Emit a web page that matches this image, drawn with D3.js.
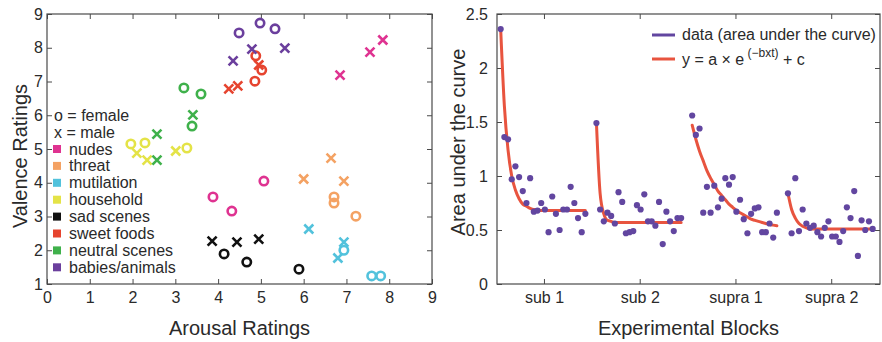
<!DOCTYPE html>
<html>
<head>
<meta charset="utf-8">
<script src="https://cdn.jsdelivr.net/npm/d3@7"></script>
<style>
  body { margin: 0; background: #fff; }
  text { font-family: "Liberation Sans", Arial, sans-serif; }
</style>
</head>
<body>
<script>
// ---- left panel data: arousal / valence per category (3 female, 3 male)
var categories = ["nudes", "threat", "mutilation", "household", "sad scenes", "sweet foods", "neutral scenes", "babies/animals"];
var femaleArousal = [[3.88, 4.32, 5.07], [6.71, 6.71, 7.22], [6.94, 7.59, 7.80], [1.96, 2.29, 3.27], [4.14, 4.67, 5.89], [4.88, 5.02, 4.86], [3.20, 3.60, 3.39], [4.49, 4.98, 5.33]];
var femaleValence = [[3.58, 3.16, 4.05], [3.58, 3.40, 3.01], [2.00, 1.24, 1.24], [5.15, 5.18, 5.03], [1.89, 1.65, 1.44], [7.76, 7.34, 7.01], [6.81, 6.63, 5.68], [8.44, 8.73, 8.56]];
var maleArousal = [[6.85, 7.55, 7.85], [6.64, 6.00, 6.94], [6.12, 6.94, 6.80], [2.10, 2.34, 3.01], [3.86, 4.44, 4.95], [4.95, 4.25, 4.46], [3.41, 2.57, 2.57], [4.35, 4.79, 5.56]];
var maleValence = [[7.19, 7.87, 8.23], [4.73, 4.11, 4.05], [2.63, 2.24, 1.77], [4.88, 4.67, 4.94], [2.27, 2.24, 2.33], [7.49, 6.78, 6.87], [6.01, 5.44, 4.67], [7.61, 7.96, 7.99]];
var arousalTicks = [0, 1, 2, 3, 4, 5, 6, 7, 8, 9];
var valenceTicks = [1, 2, 3, 4, 5, 6, 7, 8, 9];

// ---- right panel data: area under the curve per trial, 24 trials per block
var blocks = ["sub 1", "sub 2", "supra 1", "supra 2"];
var aucSub1 = [2.36, 1.36, 1.34, 0.97, 1.09, 0.99, 0.86, 0.75, 0.98, 0.67, 0.68, 0.75, 0.69, 0.48, 0.81, 0.65, 0.50, 0.69, 0.69, 0.90, 0.75, 0.61, 0.48, 0.65];
var aucSub2 = [1.49, 0.69, 0.58, 0.66, 0.63, 0.56, 0.85, 0.76, 0.47, 0.48, 0.49, 0.73, 0.69, 0.83, 0.58, 0.58, 0.54, 0.76, 0.37, 0.67, 0.58, 0.49, 0.61, 0.61];
var aucSupra1 = [1.56, 1.38, 1.44, 0.66, 0.90, 0.66, 0.91, 0.71, 0.79, 0.98, 0.92, 0.99, 0.67, 0.78, 0.60, 0.47, 0.65, 0.70, 0.71, 0.48, 0.48, 0.56, 0.43, 0.66];
var aucSupra2 = [0.84, 0.47, 0.98, 0.49, 0.69, 0.56, 0.52, 0.54, 0.48, 0.44, 0.52, 0.58, 0.44, 0.44, 0.39, 0.49, 0.71, 0.61, 0.86, 0.26, 0.59, 0.50, 0.58, 0.51];
// fitted exponential
var fitSub1 = [2.36, 1.65, 1.24, 1.00, 0.87, 0.79, 0.74, 0.72, 0.70, 0.69, 0.69, 0.68, 0.68, 0.68, 0.68, 0.68, 0.68, 0.68, 0.68, 0.68, 0.68, 0.68, 0.68, 0.68];
var fitSub2 = [1.49, 0.84, 0.65, 0.59, 0.58, 0.57, 0.57, 0.57, 0.57, 0.57, 0.57, 0.57, 0.57, 0.57, 0.57, 0.57, 0.57, 0.57, 0.57, 0.57, 0.57, 0.57, 0.57, 0.57];
var fitSupra1 = [1.47, 1.34, 1.23, 1.14, 1.05, 0.98, 0.92, 0.86, 0.82, 0.78, 0.74, 0.71, 0.68, 0.66, 0.64, 0.62, 0.60, 0.59, 0.58, 0.57, 0.56, 0.55, 0.545, 0.54];
var fitSupra2 = [0.84, 0.69, 0.61, 0.56, 0.535, 0.52, 0.51, 0.51, 0.51, 0.51, 0.51, 0.51, 0.51, 0.51, 0.51, 0.51, 0.51, 0.51, 0.51, 0.51, 0.51, 0.51, 0.51, 0.51];
var aucTicks = [0, 0.5, 1, 1.5, 2, 2.5];

var catColors = ["#df3391", "#f4a263", "#52c2dc", "#e4e347", "#111111", "#e6442f", "#3fb14b", "#6b3f9d"];
var dataColor = "#6246a0", fitColor = "#e8543f";
var axisColor = "#4a4a4a", textColor = "#2a2a2a";

var W = 882, H = 342;
var svg = d3.select("body").append("svg").attr("width", W).attr("height", H);

function frame(g, x, y, xTicks, yTicks, xFmt, yPad) {
  var x0 = x.range()[0], x1 = x.range()[1], y0 = y.range()[0], y1 = y.range()[1];
  g.append("g").attr("transform", "translate(0," + y0 + ")")
    .call(d3.axisBottom(x).tickValues(xTicks).tickSize(-5).tickSizeOuter(0).tickPadding(8).tickFormat(xFmt));
  g.append("g").attr("transform", "translate(0," + y1 + ")")
    .call(d3.axisTop(x).tickValues(xTicks).tickSize(-5).tickSizeOuter(0).tickFormat(""));
  g.append("g").attr("transform", "translate(" + x0 + ",0)")
    .call(d3.axisLeft(y).tickValues(yTicks).tickSize(-5).tickSizeOuter(0).tickPadding(yPad).tickFormat(d3.format("")));
  g.append("g").attr("transform", "translate(" + x1 + ",0)")
    .call(d3.axisRight(y).tickValues(yTicks).tickSize(-5).tickSizeOuter(0).tickFormat(""));
  g.selectAll(".domain").remove();
  g.selectAll(".tick line").attr("stroke", axisColor);
  g.selectAll(".tick text").attr("fill", textColor).style("font-size", "16px");
  g.append("rect").attr("x", x0).attr("y", y1).attr("width", x1 - x0).attr("height", y0 - y1)
    .attr("fill", "none").attr("stroke", axisColor).attr("stroke-width", 1.2);
}

// ================= left panel =================
var xA = d3.scaleLinear().domain([0, 9]).range([47, 432]);
var yV = d3.scaleLinear().domain([1, 9]).range([284, 14]);
var left = svg.append("g");
frame(left, xA, yV, arousalTicks, valenceTicks, d3.format("d"), 4);

left.append("text").attr("x", xA(4.5)).attr("y", 335).attr("text-anchor", "middle")
  .attr("fill", textColor).style("font-size", "20px").text("Arousal Ratings");
left.append("text").attr("transform", "translate(27,156) rotate(-90)").attr("text-anchor", "middle")
  .attr("fill", textColor).style("font-size", "20px").text("Valence Ratings");

// legend
left.append("text").attr("x", 54).attr("y", 121).attr("fill", textColor).style("font-size", "16px").text("o = female");
left.append("text").attr("x", 54).attr("y", 138).attr("fill", textColor).style("font-size", "16px").text("x = male");
var leg = left.selectAll(".leg").data(categories).enter().append("g").attr("class", "leg")
  .attr("transform", function(d, i) { return "translate(53," + (149 + i * 16.9) + ")"; });
leg.append("rect").attr("x", 0).attr("y", -4).attr("width", 8).attr("height", 8)
  .attr("fill", function(d, i) { return catColors[i]; });
leg.append("text").attr("x", 16).attr("y", 5.5).attr("fill", textColor).style("font-size", "16px").text(function(d) { return d; });

// markers
categories.forEach(function(c, i) {
  var col = catColors[i];
  femaleArousal[i].forEach(function(a, j) {
    left.append("circle").attr("cx", xA(a)).attr("cy", yV(femaleValence[i][j])).attr("r", 4.2)
      .attr("fill", "none").attr("stroke", col).attr("stroke-width", 2.6);
  });
  maleArousal[i].forEach(function(a, j) {
    var px = xA(a), py = yV(maleValence[i][j]), s = 4.5;
    left.append("path").attr("d", "M" + (px - s) + "," + (py - s) + "L" + (px + s) + "," + (py + s) +
        "M" + (px - s) + "," + (py + s) + "L" + (px + s) + "," + (py - s))
      .attr("stroke", col).attr("stroke-width", 2.6).attr("fill", "none");
  });
});

// ================= right panel =================
var blockLen = 26;
var xT = d3.scaleLinear().domain([0, blocks.length * blockLen]).range([497, 880]);
var yU = d3.scaleLinear().domain([0, 2.5]).range([284, 14]);
var right = svg.append("g");
var blockTicks = blocks.map(function(b, i) { return i * blockLen + 12.75; });
frame(right, xT, yU, blockTicks, aucTicks, function(d, i) { return blocks[i]; }, 9);

right.append("text").attr("x", xT(52)).attr("y", 335).attr("text-anchor", "middle")
  .attr("fill", textColor).style("font-size", "20px").text("Experimental Blocks");
right.append("text").attr("transform", "translate(465,142) rotate(-90)").attr("text-anchor", "middle")
  .attr("fill", textColor).style("font-size", "20px").text("Area under the curve");

var aucData = [aucSub1, aucSub2, aucSupra1, aucSupra2];
var fitData = [fitSub1, fitSub2, fitSupra1, fitSupra2];
function trialX(b, i) { return xT(b * blockLen + i + 1); }

var line = d3.line().curve(d3.curveMonotoneX);
fitData.forEach(function(f, b) {
  right.append("path")
    .attr("d", line(f.map(function(v, i) { return [trialX(b, i), yU(v)]; })))
    .attr("fill", "none").attr("stroke", fitColor).attr("stroke-width", 3).attr("stroke-linecap", "round");
});
aucData.forEach(function(arr, b) {
  right.selectAll(".pt" + b).data(arr).enter().append("circle")
    .attr("cx", function(d, i) { return trialX(b, i); })
    .attr("cy", function(d) { return yU(d); })
    .attr("r", 3.1).attr("fill", dataColor);
});

// legend
right.append("line").attr("x1", 652).attr("x2", 675).attr("y1", 35).attr("y2", 35).attr("stroke", dataColor).attr("stroke-width", 3);
right.append("line").attr("x1", 652).attr("x2", 675).attr("y1", 59).attr("y2", 59).attr("stroke", fitColor).attr("stroke-width", 3);
right.append("text").attr("x", 682).attr("y", 40).attr("fill", textColor).style("font-size", "16px").text("data (area under the curve)");
var eq = right.append("text").attr("x", 682).attr("y", 65).attr("fill", textColor).style("font-size", "16px");
eq.append("tspan").text("y = a \u00d7 e");
eq.append("tspan").attr("dy", -8).style("font-size", "12px").text(" (\u2212bxt)");
eq.append("tspan").attr("dy", 8).text(" + c");
</script>
</body>
</html>
